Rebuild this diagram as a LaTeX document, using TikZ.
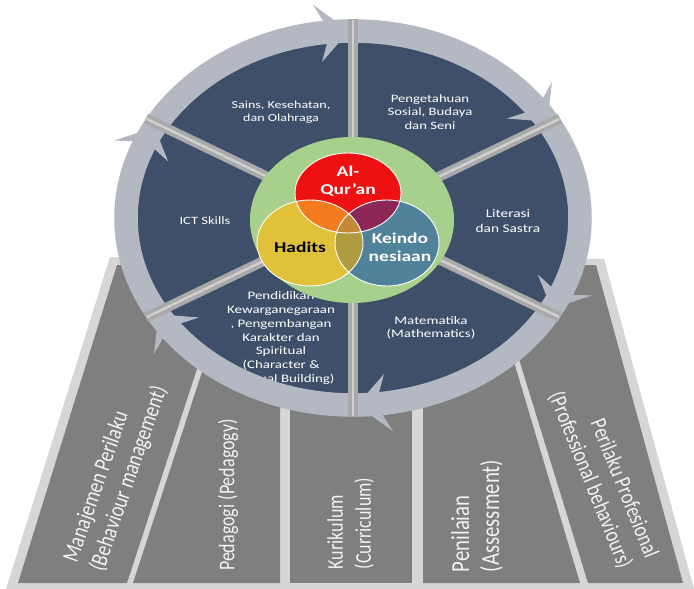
\documentclass[tikz,border=0pt]{standalone}
\usepackage{fontspec}
\setmainfont{Carlito}
\newfontfamily\cfont[FakeStretch=1.3]{Carlito}
\newfontfamily\pfont[FakeStretch=0.8]{Carlito}
\definecolor{pillight}{HTML}{D6D6D6}
\definecolor{pildark}{HTML}{7F7F7F}
\definecolor{disk}{HTML}{3E4F69}
\definecolor{ringc}{HTML}{B3B8C2}
\definecolor{spokec}{HTML}{A9A9A9}
\definecolor{spokehi}{HTML}{CFCFCF}
\definecolor{greenc}{HTML}{A8D08D}
\definecolor{redc}{HTML}{EE1111}
\definecolor{yellowc}{HTML}{DFC13A}
\definecolor{bluec}{HTML}{50829A}
\definecolor{orangec}{HTML}{F37B1E}
\definecolor{maroonc}{HTML}{8C2757}
\definecolor{olivec}{HTML}{B09C40}
\definecolor{triplec}{HTML}{C58A36}
\begin{document}
\begin{tikzpicture}[x=1pt,y=-1pt,
  ctext/.style={text=white, align=center, inner sep=0pt},
  ptext/.style={text=white!95!black, inner sep=0pt},
  pillar/.style={fill=pildark},
  arrowhd/.style={fill=ringc},
  vtext/.style={text=black, align=center, inner sep=0pt,
    font=\cfont\bfseries\fontsize{15}{18}\selectfont}]
\useasboundingbox (0,0) rectangle (694,589);
\fill[white] (0,0) rectangle (694,589);
% pillars
\fill[pillight] (110,257) -- (604,259) -- (694,589) -- (6,589) -- cycle;
\fill[pillar] (117,265) -- (231,265) -- (127,583) -- (18,583) -- cycle;
\fill[pillar] (237,265) -- (280,265) -- (280,583) -- (133,583) -- cycle;
\fill[pillar] (290,265) -- (412,265) -- (412,583) -- (290,583) -- cycle;
\fill[pillar] (423,265) -- (485,265) -- (580,583) -- (423,583) -- cycle;
\fill[pillar] (490,265) -- (596,265) -- (683,583) -- (588,583) -- cycle;
\node[ptext, rotate=71, align=left, font=\pfont\fontsize{23.5}{28}\selectfont] (p1) at (116,474) {Manajemen Perilaku\\(Behaviour management)};
\node[ptext, rotate=90, font=\pfont\fontsize{22.5}{28}\selectfont] (p2) at (228,495) {Pedagogi (Pedagogy)};
\node[ptext, rotate=90, align=left, font=\pfont\fontsize{22.5}{28}\selectfont] (p3) at (350.5,523.5) {Kurikulum\\(Curriculum)};
\node[ptext, rotate=90, align=left, font=\pfont\fontsize{26}{30}\selectfont] (p4) at (477,516) {Penilaian\\(Assessment)};
\node[ptext, rotate=-68, align=right, font=\pfont\fontsize{23}{28.5}\selectfont] (p5) at (603,475) {Perilaku Profesional\\(Professional behaviours)};
% disk
\coordinate (c) at (353,218);
\fill[disk] (c) ellipse [x radius=227pt, y radius=187pt];
% circle texts
\node[ctext, font=\cfont\fontsize{10.8}{13}\selectfont] (sains) at (281,112) {Sains, Kesehatan,\\dan Olahraga};
\node[ctext, font=\cfont\fontsize{11.3}{13.3}\selectfont] (peng) at (430,112) {Pengetahuan\\Sosial, Budaya\\dan Seni};
\node[ctext, font=\cfont\fontsize{11.8}{15}\selectfont] (lit) at (508,221) {Literasi\\dan Sastra};
\node[ctext, font=\cfont\fontsize{11.2}{13.3}\selectfont] (ict) at (205,221) {ICT Skills};
\node[ctext, font=\cfont\fontsize{11.5}{13.3}\selectfont] (mat) at (431,328) {Matematika\\(Mathematics)};
\node[ctext, font=\cfont\fontsize{11.5}{13.7}\selectfont] (pend) at (281,338) {Pendidikan\\Kewarganegaraan\\, Pengembangan\\Karakter dan\\Spiritual\\(Character \&\\Spiritual Building)};
% ring
\draw[ringc, line width=23.5pt] (c) ellipse [x radius=227pt, y radius=187pt];
\begin{scope}[shift={(353,218)}]
\foreach \s in {150,90,30,-30,-90,-150}{
  \fill[arrowhd] (\s+1:227pt and 187pt) -- (\s+9:256pt and 216pt)
     -- (\s+5.8:227pt and 187pt) -- (\s+9:198pt and 158pt) -- cycle;
}
\end{scope}
% spokes
\foreach \a in {90,30,-30,-90,-150,150}{
  \draw[spokec, line width=10pt] (c) -- ++(\a:239pt and 199pt);
  \draw[spokehi, line width=2.5pt] (c) -- ++(\a:238pt and 198pt);
}
% venn
\fill[greenc] (352,220) ellipse [x radius=102pt, y radius=83pt];
\fill[yellowc] (310,243) ellipse [x radius=53pt, y radius=43pt];
\fill[bluec] (387,243) ellipse [x radius=52pt, y radius=43pt];
\fill[redc] (348,193) ellipse [x radius=53pt, y radius=40pt];
\begin{scope}
  \clip (310,243) ellipse [x radius=53pt, y radius=43pt];
  \fill[olivec] (387,243) ellipse [x radius=52pt, y radius=43pt];
\end{scope}
\begin{scope}
  \clip (348,193) ellipse [x radius=53pt, y radius=40pt];
  \fill[orangec] (310,243) ellipse [x radius=53pt, y radius=43pt];
  \fill[maroonc] (387,243) ellipse [x radius=52pt, y radius=43pt];
  \clip (310,243) ellipse [x radius=53pt, y radius=43pt];
  \fill[triplec] (387,243) ellipse [x radius=52pt, y radius=43pt];
\end{scope}
\draw[white, line width=0.9pt] (310,243) ellipse [x radius=53pt, y radius=43pt];
\draw[white, line width=0.9pt] (387,243) ellipse [x radius=52pt, y radius=43pt];
\draw[white, line width=0.9pt] (348,193) ellipse [x radius=53pt, y radius=40pt];
\node[vtext, text=white] (quran) at (348,181) {Al-\\Qur’an};
\node[vtext] (hadits) at (300,247) {Hadits};
\node[vtext, text=white] (keindo) at (400,247) {Keindo\\nesiaan};
\end{tikzpicture}
\end{document}
